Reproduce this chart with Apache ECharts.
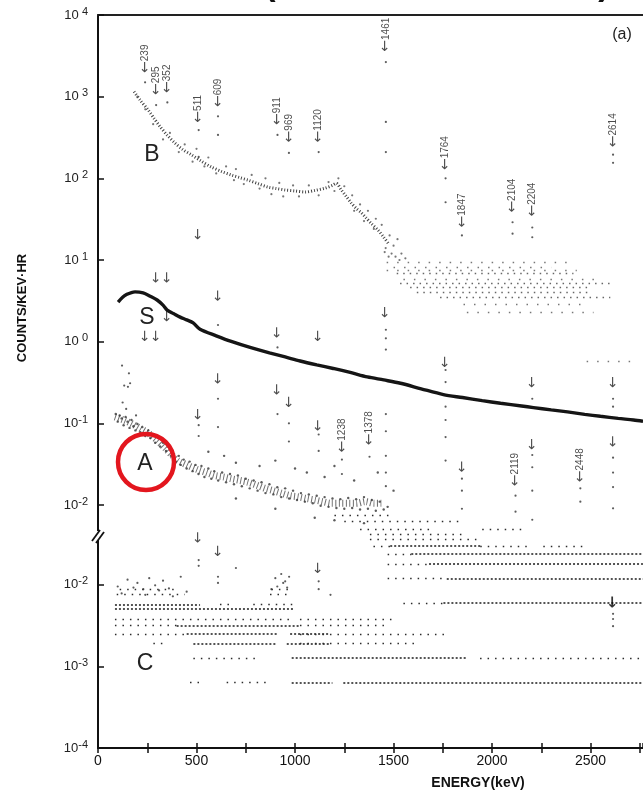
<!DOCTYPE html>
<html><head><meta charset="utf-8">
<script src="https://cdn.jsdelivr.net/npm/echarts@6/dist/echarts.min.js"></script>
<style>html,body{margin:0;padding:0;background:#fff}#c{width:643px;height:795px}</style>
</head><body><div id="c"></div>
<script>
// ---------------- DATA (energy keV, counts/keV·hr) ----------------
const xTickLabels = ['0','500','1000','1500','2000','2500'];
const upperExps = [4,3,2,1,0,-1,-2];
const lowerExps = [-2,-3,-4];

// Spectrum S (thick continuous curve)
const sCurve = [[102,3.06],[125,3.5],[147,3.8],[170,4.0],[188,4.07],[229,3.95],[265,3.6],[300,3.24],[330,2.8],[351,2.44],[385,2.2],[417,2.0],[450,1.85],[483,1.7],[518,1.42],[600,1.18],[680,1.0],[772,0.85],[870,0.73],[950,0.65],[1026,0.58],[1110,0.52],[1194,0.47],[1280,0.42],[1367,0.37],[1450,0.34],[1535,0.31],[1640,0.265],[1753,0.225],[1850,0.207],[1950,0.19],[2043,0.176],[2150,0.163],[2210,0.156],[2300,0.146],[2383,0.138],[2470,0.129],[2550,0.122],[2640,0.115],[2718,0.11],[2766,0.106]];
const sPeaks = [[1461,1.4],[1461,1.1],[1461,0.8],[1764,0.45],[1764,0.32],[2204,0.2],[2614,0.2],[2614,0.16],[609,1.6],[911,0.85]];

// Spectrum B
const bCurve = [[183,1150],[215,900],[254,690],[285,540],[315,430],[350,340],[391,270],[430,225],[473,195],[520,165],[574,138],[625,122],[676,110],[720,102],[762,95],[812,86],[864,78],[905,75],[950,72],[1000,70],[1052,68],[1100,71],[1153,76],[1190,82],[1209,87],[1235,72],[1260,60],[1285,50],[1310,43],[1336,38],[1360,33],[1387,28],[1423,23],[1450,19],[1473,16]];
const bScatter = [[200,1000],[240,700],[280,460],[330,300],[365,360],[410,210],[440,260],[480,160],[500,230],[540,140],[560,180],[600,115],[650,140],[690,95],[700,130],[740,85],[780,110],[820,75],[850,100],[880,64],[920,88],[940,60],[990,82],[1020,60],[1070,82],[1120,62],[1170,90],[1200,70],[1220,100],[1250,80],[1290,62],[1300,40],[1330,48],[1350,30],[1370,40],[1400,24],[1410,32],[1440,27],[1460,14],[1480,20],[1490,12],[1500,15],[1510,11],[1520,18],[1530,10],[1455,12.5],[1475,11],[1540,12],[1560,10.5]];
const bPeaks = [[239,1500],[295,790],[352,850],[511,390],[511,183],[609,575],[609,340],[911,340],[969,205],[1120,210],[1461,2650],[1461,490],[1461,210],[1764,100],[1764,51],[1847,20],[2104,29],[2104,21],[2204,25],[2204,19],[2614,195],[2614,155]];
const bDenseRows = [[6.96,1516,2413],[5.2,1533,2600],[4.64,1584,2498],[4.06,1618,2498],[3.48,1736,2600]];
const bSparseRows = [[9.28,1465,2396],[8.12,1500,2300],[7.54,1465,2430],[5.8,1550,2550],[2.9,1855,2480],[2.32,1872,2515],[0.58,2480,2740]];

// Spectrum A
const aCurve = [[86,0.12],[130,0.11],[168,0.1],[210,0.088],[254,0.076],[300,0.062],[340,0.05],[370,0.042],[406,0.035],[450,0.031],[508,0.027],[550,0.025],[594,0.023],[640,0.022],[676,0.021],[720,0.02],[762,0.019],[805,0.0175],[848,0.016],[890,0.015],[930,0.014],[975,0.013],[1016,0.0126],[1060,0.012],[1103,0.0115],[1140,0.011],[1184,0.0105],[1230,0.0105],[1270,0.0105],[1310,0.0105],[1357,0.011],[1400,0.0105],[1438,0.0105]];
const aScatter = [[90,0.13],[100,0.105],[110,0.125],[120,0.115],[130,0.095],[140,0.12],[150,0.105],[160,0.088],[170,0.11],[180,0.092],[190,0.082],[200,0.098],[215,0.078],[225,0.09],[240,0.07],[255,0.082],[265,0.066],[280,0.072],[290,0.058],[305,0.066],[315,0.052],[330,0.058],[345,0.046],[355,0.052],[370,0.04],[380,0.046],[395,0.034],[410,0.04],[420,0.031],[435,0.036],[450,0.028],[465,0.034],[480,0.026],[495,0.031],[510,0.024],[525,0.03],[540,0.022],[560,0.028],[575,0.021],[590,0.026],[610,0.02],[630,0.025],[650,0.019],[670,0.024],[690,0.018],[710,0.023],[730,0.017],[750,0.021],[770,0.016],[790,0.02],[810,0.015],[830,0.019],[850,0.014],[870,0.018],[890,0.0135],[910,0.0165],[930,0.0125],[950,0.016],[970,0.012],[990,0.015],[1010,0.0115],[1030,0.014],[1050,0.011],[1070,0.0135],[1090,0.0105],[1110,0.013],[1130,0.0098],[1150,0.0125],[1170,0.0095],[1190,0.012],[1210,0.0092],[1230,0.0118],[1250,0.009],[1270,0.0122],[1290,0.0092],[1310,0.0118],[1330,0.0088],[1350,0.0125],[1370,0.009],[1390,0.0115],[1410,0.0085],[1430,0.011],[1450,0.0088],[1470,0.0095],
  [560,0.045],[640,0.04],[700,0.033],[820,0.03],[900,0.035],[1000,0.028],[1060,0.025],[1150,0.022],[1200,0.03],[1300,0.02],[1420,0.025],[1500,0.015],[700,0.012],[900,0.009],[1100,0.007],[1200,0.0065],[1350,0.006]];
const aPeaks = [[511,0.095],[511,0.07],[609,0.2],[609,0.09],[911,0.13],[969,0.1],[969,0.06],[1120,0.073],[1120,0.046],[1238,0.036],[1238,0.024],[1378,0.039],[1461,0.13],[1461,0.08],[1461,0.04],[1461,0.025],[1461,0.017],[1764,0.16],[1764,0.11],[1764,0.068],[1764,0.035],[1847,0.021],[1847,0.015],[1847,0.009],[2119,0.013],[2119,0.0083],[2204,0.041],[2204,0.029],[2204,0.015],[2204,0.0066],[2448,0.016],[2448,0.011],[2614,0.038],[2614,0.025],[2614,0.0166],[2614,0.0091],
  [122,0.51],[133,0.29],[152,0.28],[163,0.31],[157,0.41],[125,0.18],[143,0.15],[193,0.125]];
const aDenseRows = [[2.5e-3,1590,2766],[1.9e-3,1680,2766],[1.26e-3,1770,2766],[6.3e-4,1753,2766],[3.15e-3,1483,1940]];
const aSparseRows = [[2.5e-3,1470,1590],[1.9e-3,1470,1680],[1.26e-3,1470,1770],[6.3e-4,1550,1753],[3.15e-3,1398,1483],[3.15e-3,1940,2176],[3.15e-3,2260,2480],[3.8e-3,1380,1940],[4.4e-3,1380,1860],[5.0e-3,1330,1700],[5.0e-3,1950,2150],[6.3e-3,1250,1850],[7.6e-3,1200,1500]];

// Spectrum C (lower panel)
const cScatter = [[900,0.012],[930,0.0135],[950,0.011],[970,0.0125],[910,0.0095],[880,0.0088],[940,0.0105],[960,0.0092],[100,0.0095],[150,0.0115],[180,0.0092],[200,0.0105],[230,0.0088],[260,0.012],[290,0.0098],[310,0.0085],[330,0.0112],[360,0.009],[420,0.0125],[450,0.0082],[120,0.0078],[240,0.0075],[380,0.0072],[700,0.016],[1180,0.0075]];
const cPeaks = [[511,0.02],[511,0.017],[609,0.0105],[609,0.0125],[1120,0.011],[1120,0.0088],[2614,0.0044],[2614,0.0038],[2614,0.0031]];
const cDenseRows = [[6.3e-4,983,1190],[6.3e-4,1245,2766],[1.26e-3,983,1871],[1.9e-3,484,907],[1.9e-3,958,1178],[2.5e-3,450,907],[2.5e-3,975,1178],[3.15e-3,399,1025],[5.0e-3,86,991],[5.7e-3,86,518]];
const cSparseRows = [[6.3e-4,467,518],[6.3e-4,653,856],[1.26e-3,484,822],[1.26e-3,1939,2766],[1.9e-3,281,332],[1.9e-3,1025,1634],[2.5e-3,86,450],[2.5e-3,1025,1786],[3.15e-3,86,399],[3.15e-3,1025,1465],[3.8e-3,86,991],[3.8e-3,1025,1500],[5.7e-3,619,687],[5.7e-3,788,991],[7.6e-3,95,440],[7.6e-3,873,975],[8.8e-3,110,400],[8.8e-3,880,975]];

// Peak arrows
const bLabeledArrows = [[239,1950,'239'],[295,1050,'295'],[352,1110,'352'],[511,480,'511'],[609,745,'609'],[911,450,'911'],[969,275,'969'],[1120,275,'1120'],[1461,3550,'1461'],[1764,126,'1764'],[1847,25,'1847'],[2104,38,'2104'],[2204,34,'2204'],[2614,240,'2614']];
const sArrows = [[295,5.2],[352,5.2],[352,1.74],[239,1.0],[295,1.0],[511,17.5],[609,3.1],[911,1.1],[1120,1.0],[1461,1.95],[1764,0.48],[2204,0.27],[2614,0.27]];
const aArrows = [[511,0.11],[609,0.30],[911,0.22],[969,0.155],[1120,0.08],[1847,0.025],[2204,0.047],[2614,0.051]];
const aLabeledArrows = [[1238,0.044,'1238'],[1378,0.054,'1378'],[2119,0.017,'2119'],[2448,0.019,'2448']];
const cArrows = [[511,0.032],[609,0.022],[1120,0.0136]];
const cBoldArrows = [[2614,0.0051]];

// ---------------- BUILD ----------------
const OFF = 0.975; // lower panel shift (decades) for the broken axis
const up = c => Math.log10(c);
const low = c => Math.log10(c) - OFF;
const mapPts = (arr, f) => arr.map(([e,c]) => [e, f(c)]);
const rows = (arr, f) => arr.map(([c,e1,e2]) => ({coords:[[e1,f(c)],[e2,f(c)]]}));

const ink = '#1e1e1e';
function scatter(data, size, color){
  return {type:'scatter', data, symbolSize:size, itemStyle:{color:color||'#333'}, silent:true, z:4};
}
function lines(data, dense, color, sparseGap){
  return {type:'lines', coordinateSystem:'cartesian2d', data, silent:true, z:3,
    lineStyle:{color:color||'#2b2b2b', width: dense?1.6:1.4, type: dense?[2,2]:[1.5,sparseGap||6], opacity:1}};
}
function arrows(list, f, bold){
  return {type:'scatter', symbolSize:0.1, itemStyle:{color:'transparent'}, silent:true, z:6,
    data: list.map(a => ({value:[a[0], f(a[1])], name: a[2] || ''})),
    label:{show:true, position:[0,0], rotate:90, align:'left', verticalAlign:'middle',
      formatter: p => (bold ? '{b|←}' : '{a|←}') + (p.name ? '{n|' + p.name + '}' : ''),
      rich:{
        a:{fontFamily:'DejaVu Sans', fontSize:14, color:ink},
        b:{fontFamily:'DejaVu Sans', fontSize:15, fontWeight:'bold', color:'#000'},
        n:{fontFamily:'Liberation Sans', fontSize:10, color:ink}
      }}
  };
}

const yVals = upperExps.map(e => e).concat(lowerExps.map(e => e - OFF));

const chart = echarts.init(document.getElementById('c'), null, {renderer:'canvas'});
chart.setOption({
  animation:false,
  backgroundColor:'#fff',
  grid:{left:98, right:0, top:15, bottom:47, containLabel:false},
  xAxis:[
    {type:'value', min:0, max:2766, interval:250, position:'bottom',
     axisLine:{onZero:false, lineStyle:{color:'#111', width:2}},
     axisTick:{show:true, length:5, lineStyle:{color:'#111', width:1.5}},
     axisLabel:{fontFamily:'Liberation Sans', fontSize:14, color:'#111', margin:6, showMaxLabel:false,
       formatter: v => { const i = xTickLabels.indexOf(String(v)); return i >= 0 ? xTickLabels[i] : ''; }},
     splitLine:{show:false}},
    {type:'value', min:0, max:2766, interval:250, position:'bottom',
     axisLine:{show:false, onZero:false}, axisLabel:{show:false}, splitLine:{show:false},
     axisTick:{show:true, inside:true, length:5, lineStyle:{color:'#111', width:1.5}}},
    {type:'value', min:0, max:2766, position:'top',
     axisLine:{show:true, onZero:false, lineStyle:{color:'#222', width:2}}, axisTick:{show:false}, axisLabel:{show:false}, splitLine:{show:false}}
  ],
  yAxis:{type:'value', min:-4.975, max:4,
    axisLine:{show:true, onZero:false, lineStyle:{color:'#111', width:2}},
    axisTick:{show:true, inside:true, length:6, customValues:yVals, lineStyle:{color:'#111', width:1.5}},
    axisLabel:{customValues:yVals, margin:10, color:'#222',
      formatter: v => { const e = v > -2.5 ? Math.round(v) : Math.round(v + OFF); return '{m|10}{e|' + (e >= 0 ? ' ' + e : String(e)) + '}'; },
      rich:{m:{fontFamily:'Liberation Sans', fontSize:13, color:'#222'}, e:{fontFamily:'Liberation Sans', fontSize:11, color:'#222', padding:[0,0,7,0]}}},
    splitLine:{show:false}},
  series:[
    {type:'line', data:mapPts(sCurve, up), smooth:0.3, symbol:'none', silent:true, z:5, lineStyle:{color:'#151515', width:3.4}},
    {type:'line', data:mapPts(bCurve, up), smooth:0.3, symbol:'none', silent:true, z:4, lineStyle:{color:'#444', width:3, type:[1,2]}},
    {type:'line', data:mapPts(aCurve, up), smooth:0.3, symbol:'none', silent:true, z:4, lineStyle:{color:'#333', width:7, type:[1,2.5], opacity:0.7}},
    scatter(mapPts(bScatter, up), 2.2, '#555'),
    scatter(mapPts(bPeaks, up), 2.2),
    scatter(mapPts(sPeaks, up), 2.2),
    scatter(mapPts(aScatter, up), 2.4),
    scatter(mapPts(aPeaks, up), 2.2),
    scatter(mapPts(cScatter, low), 2.2),
    scatter(mapPts(cPeaks, low), 2.2),
    lines(rows(bDenseRows, up), false, '#666', 5),
    lines(rows(bSparseRows, up), false, '#777', 9),
    lines(rows(aDenseRows, up), true),
    lines(rows(aSparseRows, up), false),
    lines(rows(cDenseRows, low), true),
    lines(rows(cSparseRows, low), false),
    arrows(bLabeledArrows, up),
    arrows(sArrows, up),
    arrows(aArrows, up),
    arrows(aLabeledArrows, up),
    arrows(cArrows, low),
    arrows(cBoldArrows, low, true)
  ],
  graphic:[
    {type:'rect', shape:{x:90, y:531, width:16, height:9}, style:{fill:'#fff'}, z:100},
    {type:'line', shape:{x1:92, y1:541, x2:100, y2:530}, style:{stroke:'#111', lineWidth:1.8}, z:101},
    {type:'line', shape:{x1:96, y1:543, x2:104, y2:532}, style:{stroke:'#111', lineWidth:1.8}, z:101},
    {type:'text', x:22, y:308, rotation:Math.PI/2, z:100, style:{text:'COUNTS/KEV·HR', font:'bold 13px "Liberation Sans"', fill:'#111', textAlign:'center', textVerticalAlign:'middle'}},
    {type:'text', x:478, y:783, z:100, style:{text:'ENERGY(keV)', font:'bold 14px "Liberation Sans"', fill:'#111', textAlign:'center', textVerticalAlign:'middle'}},
    {type:'text', x:622, y:35, z:100, style:{text:'(a)', font:'16px "Liberation Sans"', fill:'#222', textAlign:'center', textVerticalAlign:'middle'}},
    {type:'text', x:152, y:155, z:100, style:{text:'B', font:'23px "Liberation Sans"', fill:'#222', textAlign:'center', textVerticalAlign:'middle'}},
    {type:'text', x:147, y:318, z:100, style:{text:'S', font:'23px "Liberation Sans"', fill:'#222', textAlign:'center', textVerticalAlign:'middle'}},
    {type:'text', x:145, y:464, z:100, style:{text:'A', font:'23px "Liberation Sans"', fill:'#222', textAlign:'center', textVerticalAlign:'middle'}},
    {type:'text', x:145, y:664, z:100, style:{text:'C', font:'23px "Liberation Sans"', fill:'#222', textAlign:'center', textVerticalAlign:'middle'}},
    {type:'circle', shape:{cx:146, cy:462, r:28}, style:{fill:'none', stroke:'#e3161e', lineWidth:4.5}, z:110},
    {type:'text', x:270, y:-14, z:100, style:{text:'(', font:'bold 34px "Liberation Sans"', fill:'#111', textAlign:'center', textVerticalAlign:'middle'}},
    {type:'text', x:604, y:-14, z:100, style:{text:')', font:'bold 34px "Liberation Sans"', fill:'#111', textAlign:'center', textVerticalAlign:'middle'}}
  ]
});
</script></body></html>
